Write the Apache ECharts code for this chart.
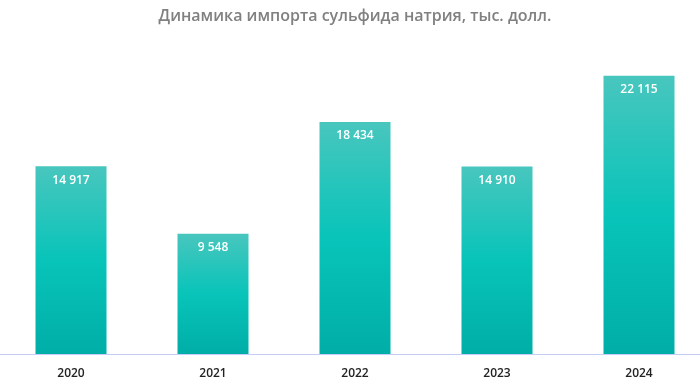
<!DOCTYPE html>
<html><head><meta charset="utf-8">
<script src="https://cdn.jsdelivr.net/npm/echarts@6/dist/echarts.min.js"></script>
<style>html,body{margin:0;padding:0;background:#fff;overflow:hidden}#c{width:710px;height:383px}</style>
</head><body><div id="c"></div>
<script>
const categories = ['2020','2021','2022','2023','2024'];
const values = [14917, 9548, 18434, 14910, 22115];
const chart = echarts.init(document.getElementById('c'));
const fmt = v => String(v).replace(/\B(?=(\d{3})+(?!\d))/g, ' ');
chart.setOption({
  animation:false,
  title:{text:'Динамика импорта сульфида натрия, тыс. долл.',left:'center',top:3,padding:[5,10,5,0],
    textStyle:{color:'#808080',fontSize:16,fontWeight:600,fontFamily:'Open Sans'}},
  grid:{left:0,right:0,top:52,bottom:29},
  xAxis:{type:'category',data:categories,
    axisLine:{lineStyle:{color:'#c5cdf5',width:1}},axisTick:{show:false},
    axisLabel:{color:'#222',fontWeight:600,fontSize:12,margin:14,fontFamily:'Open Sans'}},
  yAxis:{type:'value',min:0,max:24000,show:false,splitLine:{show:false}},
  series:[{type:'bar',data:values,barWidth:71,
    itemStyle:{color:new echarts.graphic.LinearGradient(0,0,0,1,[
      {offset:0,color:'#48c6be'},{offset:0.5,color:'#08c4b9'},{offset:1,color:'#00aea7'}])},
    label:{show:true,position:'insideTop',distance:8,color:'#fff',fontWeight:600,fontSize:12,
      fontFamily:'Open Sans',formatter:p=>fmt(p.value)}}]
});
</script></body></html>
